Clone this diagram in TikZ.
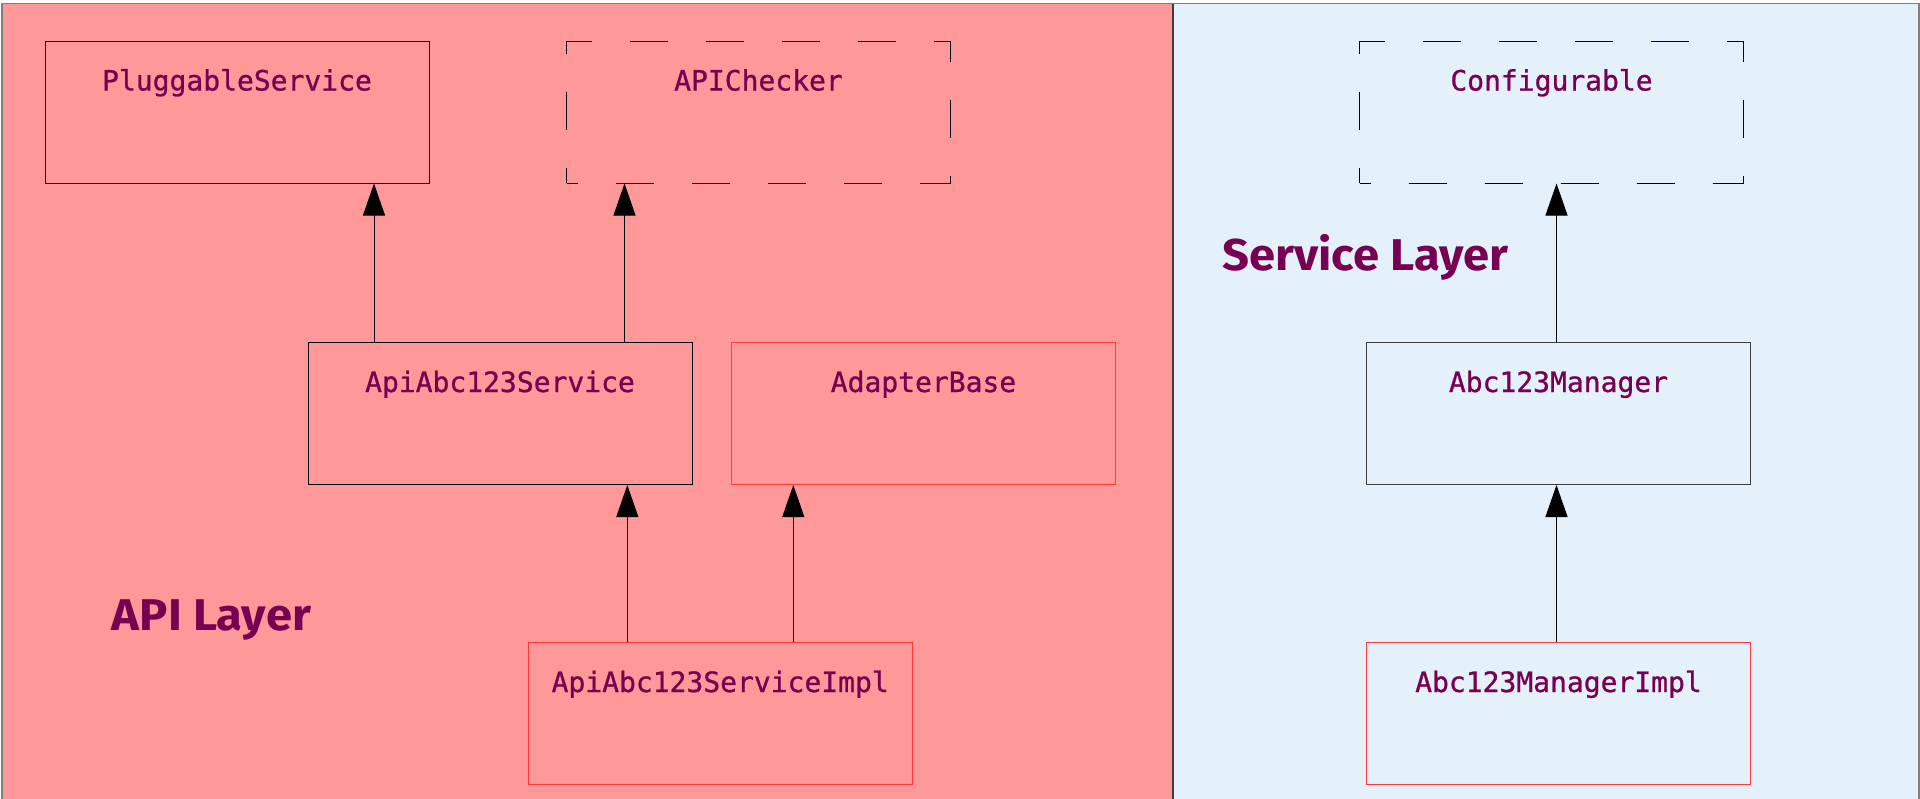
\documentclass[tikz,border=0pt]{standalone}
\usepackage{fontspec}
\newfontfamily\boxfont{DejaVu Sans Mono}[FakeBold=0.9]
\newfontfamily\layerfont{Fira Sans}[FakeStretch=1.06]
\usetikzlibrary{arrows.meta}
\definecolor{apifill}{RGB}{255,153,153}
\definecolor{svcfill}{RGB}{228,241,250}
\definecolor{labelcol}{RGB}{120,0,82}
\definecolor{redline}{RGB}{255,60,60}
\definecolor{frameline}{RGB}{128,128,128}
\definecolor{darkline}{RGB}{60,60,60}
\tikzset{
  classbox/.style={draw=black, line width=1pt, anchor=north west, inner sep=0pt,
    minimum width=384pt, text height=49.5pt, text depth=92.5pt,
    font=\boxfont\fontsize{28}{30}\selectfont, text=labelcol},
  implbox/.style={classbox, draw=redline},
  ifacebox/.style={classbox, dash pattern=on 38pt off 38pt, dash phase=27pt},
  layerlabel/.style={anchor=base west, inner sep=0pt, text=labelcol,
    font=\layerfont\bfseries\fontsize{44.5}{48}\selectfont},
  inherit/.style={draw=black, line width=1pt,
    -{Triangle[length=32pt,width=22pt]}}
}
\begin{document}
\begin{tikzpicture}[x=1pt,y=-1pt]
\useasboundingbox (0,0) rectangle (1920,798);
% layer backgrounds
\fill[white] (0,0) rectangle (1920,798);
\fill[apifill] (2,3.5) rectangle (1173,800);
\fill[svcfill] (1173,3.5) rectangle (1919,800);
\draw[frameline, line width=1.8pt] (2,800) -- (2,3.5) -- (1919,3.5) -- (1919,800);
\draw[darkline, line width=1.2pt] (1173,3.5) -- (1173,800);

% layer titles
\node[layerlabel] (apilayer) at (111.7,630.7) {API Layer};
\node[layerlabel] (svclayer) at (1222,270) {Service Layer};

% API layer classes
\node[classbox] (ps) at (44.5,40.5) {PluggableService};
\node[ifacebox] (chk) at (566,40.5) {APIChecker};
\node[classbox] (svc) at (307.5,342) {ApiAbc123Service};
\node[implbox] (adapter) at (731,342) {AdapterBase};
\node[implbox] (impl) at (527.7,642) {ApiAbc123ServiceImpl};

% service layer classes
\node[ifacebox] (conf) at (1359,40.5) {Configurable};
\node[classbox, draw=darkline] (mgr) at (1366,342) {Abc123Manager};
\node[implbox] (mgrimpl) at (1366,642) {Abc123ManagerImpl};

% inheritance arrows
\draw[inherit] ([xshift=66.5pt]svc.north west) -- ([xshift=66.5pt]svc.north west |- ps.south);
\draw[inherit] ([xshift=317pt]svc.north west) -- ([xshift=317pt]svc.north west |- chk.south);
\draw[inherit] ([xshift=99.6pt]impl.north west) -- ([xshift=99.6pt]impl.north west |- svc.south);
\draw[inherit] ([xshift=265.6pt]impl.north west) -- ([xshift=265.6pt]impl.north west |- adapter.south);
\draw[inherit] ([xshift=190.5pt]mgr.north west) -- ([xshift=190.5pt]mgr.north west |- conf.south);
\draw[inherit] ([xshift=190.5pt]mgrimpl.north west) -- ([xshift=190.5pt]mgrimpl.north west |- mgr.south);
\end{tikzpicture}
\end{document}
